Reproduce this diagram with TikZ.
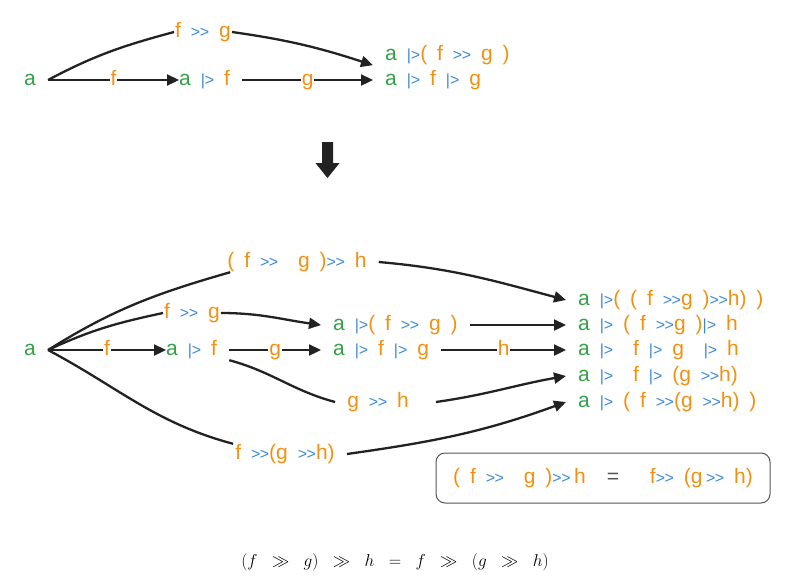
\documentclass[tikz,border=0pt]{standalone}
\usepackage{fontspec}
\setmainfont[WordSpace=1.7]{Liberation Sans}
\usetikzlibrary{arrows.meta}
\definecolor{ink}{HTML}{222222}
\definecolor{green1}{HTML}{34A048}
\definecolor{orange1}{HTML}{F29111}
\definecolor{blue1}{HTML}{3B87D6}
\definecolor{grey1}{HTML}{555555}
\newcommand{\opf}{\fontsize{16}{16}\selectfont}
\newcommand{\va}{\textcolor{green1}{a}}
\newcommand{\pp}{{\color{blue1}\opf|>}}
\newcommand{\cmp}{{\color{blue1}\opf>\kern-0.5pt>}}

\begin{document}
\begin{tikzpicture}[x=1pt,y=-1pt,font=\fontsize{21}{24}\selectfont,
  txt/.style={text=orange1, inner xsep=12pt, inner ysep=0pt, text height=15pt, text depth=5pt},
  lbl/.style={text=orange1, fill=white, inner xsep=1pt, inner ysep=0pt, text height=15pt, text depth=5pt},
  edge/.style={ink, line width=2.3pt},
  arr/.style={edge, -{Triangle[length=12pt,width=11pt]}}]
  \useasboundingbox (0,0) rectangle (790,582);
  % before
  \node[txt,text=green1] (a0) at (30,80) {a};
  \node[txt,anchor=west] (af0) at (167,80) {\va\ \pp\ f};
  \node[lbl] (fg0) at (203,32) {f \cmp\ g};
  \node[txt,anchor=west] (afcg0) at (373,55) {\va\ \pp( f \cmp\ g )};
  \node[txt,anchor=west] (afg0) at (373,80) {\va\ \pp\ f \pp\ g};
  \draw[arr] (a0.east) -- node[lbl]{f} ([xshift=12pt]af0.west);
  \draw[arr] (af0.east) -- node[lbl]{g} (afg0.west);
  \draw[edge] (a0.east) to[out=28,in=195] (fg0.west);
  \draw[arr] (fg0.east) to[out=-8,in=162] (afcg0.south west);
  \fill[ink] (322,142) -- (333,142) -- (333,163) -- (339.5,163) -- (327.5,178) -- (315.5,163) -- (322,163) -- cycle;
  % after
  \node[txt,text=green1] (a1) at (30,350) {a};
  \node[txt,anchor=west] (af1) at (154,350) {\va\ \pp\ f};
  \node[txt,anchor=west] (afg1) at (321,350) {\va\ \pp\ f \pp\ g};
  \node[lbl] (fg1) at (192,313) {f \cmp\ g};
  \node[txt,anchor=west] (afcg1) at (321,325) {\va\ \pp( f \cmp\ g )};
  \node[txt] (fgh1) at (297,262) {( f \cmp\ \ g )\cmp\ h};
  \node[txt] (gh1) at (378,402) {g \cmp\ h};
  \node[txt] (fgh2) at (285,454) {f \cmp (g \cmp h)};
  \node[txt,anchor=west] (r1) at (566,300) {\va\ \pp( ( f \cmp g )\cmp h) )};
  \node[txt,anchor=west] (r2) at (566,325) {\va\ \pp\ ( f \cmp g )\pp\ h};
  \node[txt,anchor=west] (r3) at (566,350) {\va\ \pp\ \ f \pp\ g \ \pp\ h};
  \node[txt,anchor=west] (r4) at (566,376) {\va\ \pp\ \ f \pp\ (g \cmp h)};
  \node[txt,anchor=west] (r5) at (566,402) {\va\ \pp\ ( f \cmp (g \cmp h) )};
  \draw[arr] (a1.east) -- node[lbl]{f} ([xshift=12pt]af1.west);
  \draw[arr] (af1.east) -- node[lbl]{g} (afg1.west);
  \draw[arr] (afg1.east) -- node[lbl]{h} (r3.west);
  \draw[edge] (a1.east) to[out=25,in=192] (fg1.west);
  \draw[arr] (fg1.east) to[out=0,in=172] (afcg1.west);
  \draw[arr] (afcg1.east) -- (r2.west);
  \draw[edge] (a1.east) to[out=32,in=196] ([xshift=15pt]fgh1.south west);
  \draw[arr] (fgh1.east) to[out=-5,in=165] (r1.west);
  \draw[edge] (af1.south east) to[out=-15,in=165] (gh1.west);
  \draw[arr] ([xshift=15pt]gh1.east) to[out=8,in=190] (r4.west);
  \draw[edge] (a1.east) to[out=-28,in=165] ([xshift=10pt]fgh2.north west);
  \draw[arr] (fgh2.east) to[out=8,in=200] (r5.west);
  \node[draw=grey1, line width=1pt, rounded corners=9pt, minimum width=334pt, minimum height=50pt, text=orange1] (law) at (603,478) {( f \cmp\ \ g )\cmp\,h\quad\textcolor{grey1}{=}\quad\ f\cmp\ (g\,\cmp\ h)};
  \node (eq) at (395,562) {\fontsize{16.5}{18}\selectfont $(f \;\;\gg\;\; g) \;\;\gg\;\; h \;\;=\;\; f \;\;\gg\;\; (g \;\;\gg\;\; h)$};
\end{tikzpicture}
\end{document}
